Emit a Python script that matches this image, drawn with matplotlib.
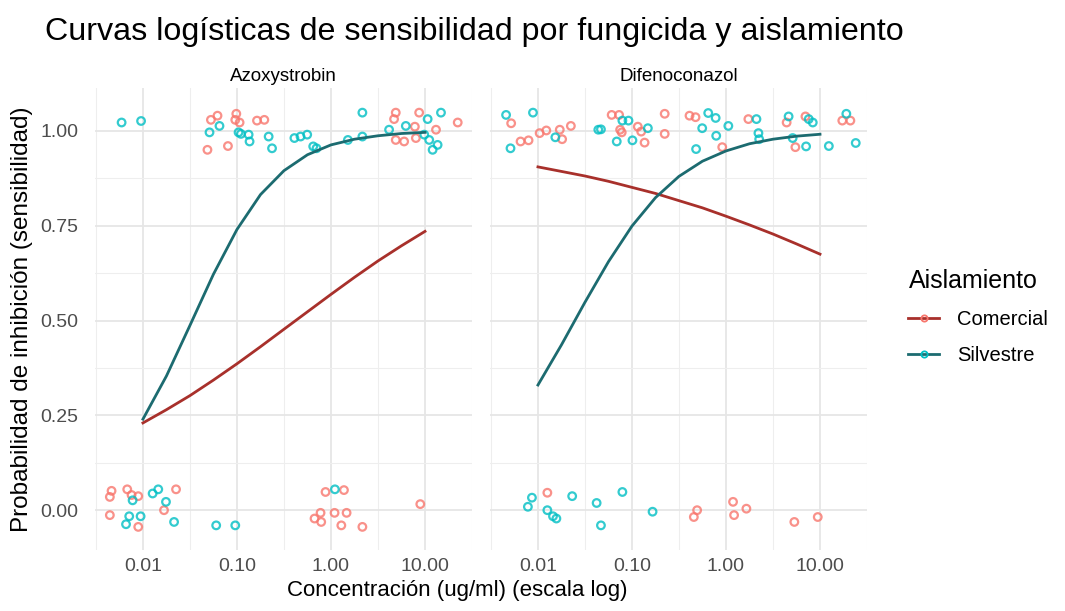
import numpy as np
import matplotlib
matplotlib.use("Agg")
import matplotlib.pyplot as plt
from matplotlib.lines import Line2D

plt.rcParams['font.family'] = ['Liberation Sans', 'DejaVu Sans']

PT_C = {'Comercial': '#F8766D', 'Silvestre': '#00BFC4'}
LN_C = {'Comercial': '#A8302B', 'Silvestre': '#1C6B70'}

# fitted curves
curve_x = [0.01, 0.0178, 0.0316, 0.0562, 0.1, 0.178, 0.316, 0.562, 1, 1.78, 3.16, 5.62, 10]
curves = {
    'Azoxystrobin': {
        'Comercial': [0.230, 0.265, 0.302, 0.343, 0.386, 0.431, 0.477, 0.523, 0.569,
                      0.614, 0.657, 0.697, 0.735],
        'Silvestre': [0.240, 0.354, 0.487, 0.622, 0.740, 0.832, 0.895, 0.937, 0.963,
                      0.978, 0.987, 0.993, 0.996],
    },
    'Difenoconazol': {
        'Comercial': [0.905, 0.893, 0.881, 0.867, 0.851, 0.835, 0.816, 0.797, 0.775,
                      0.752, 0.728, 0.702, 0.675],
        'Silvestre': [0.330, 0.436, 0.548, 0.655, 0.749, 0.824, 0.880, 0.920, 0.947,
                      0.966, 0.978, 0.986, 0.991],
    },
}

# jittered observations (log10 concentration, response)
azo_com_lx = [-1.277, -1.207, -1.314, -1.096, -1.007, -1.018, -0.972, -0.787, -0.709,
              0.689, 0.671, 0.689, 0.778, 0.892, 0.938, 0.903, 1.117, 1.348,
              -2.334, -2.352, -2.167, -2.121, -2.05, -1.776, -1.648, -2.352, -2.05,
              -0.058, 0.138, -0.175, -0.111, -0.104, 0.038, 0.166, 0.11, 0.334, 0.95]
azo_com_y = [1.029, 1.04, 0.95, 0.96, 1.045, 1.029, 1.022, 1.027, 1.029,
             1.048, 1.031, 0.976, 0.972, 1.011, 1.048, 0.981, 1.003, 1.022,
             0.051, 0.035, 0.055, 0.04, 0.037, 0.0, 0.055, -0.013, -0.044,
             0.048, 0.053, -0.022, -0.007, -0.031, -0.007, -0.007, -0.04, -0.044, 0.016]
azo_sil_lx = [-2.227, -2.02, -1.292, -1.186, -0.983, -0.958, -0.876, -0.866, -0.663, -0.627,
              -0.389, -0.324, -0.253, -0.189, -0.154, 0.18, 0.334, 0.334, 0.618, 0.796,
              0.992, 1.028, 1.045, 1.081, 1.134, 1.17,
              -2.11, -1.897, -1.837, -1.755, -2.146, -2.025, -2.18, -1.669, -1.221, -1.018, 0.042]
azo_sil_y = [1.022, 1.026, 0.996, 1.013, 0.996, 0.992, 0.99, 0.972, 0.985, 0.954,
             0.981, 0.985, 0.99, 0.959, 0.954, 0.976, 1.048, 0.985, 1.003, 1.013,
             0.99, 1.031, 0.976, 0.95, 0.963, 1.048,
             0.026, 0.044, 0.055, 0.022, -0.016, -0.016, -0.037, -0.031, -0.04, -0.04, 0.055]
dif_com_lx = [-2.285, -2.185, -2.1, -1.982, -1.911, -1.768, -1.743, -1.65, -1.216, -1.137,
              -1.126, -1.109, -0.938, -0.902, -0.866, -0.652, -0.652, -0.388, -0.324, -0.04,
              0.238, 0.645, 0.845, 0.738, 1.237, 1.323,
              -1.9, -0.307, -0.342, 0.075, 0.217, 0.086, 0.727, 0.976]
dif_com_y = [1.02, 0.972, 0.975, 0.994, 1.001, 1.003, 0.978, 1.013, 1.042, 1.042,
             1.003, 0.996, 1.011, 0.998, 0.969, 1.045, 0.992, 1.04, 1.036, 0.957,
             1.031, 1.022, 1.038, 0.957, 1.027, 1.027,
             0.046, 0.0, -0.018, 0.022, 0.004, -0.013, -0.031, -0.018]
dif_sil_lx = [-2.339, -2.053, -2.292, -1.815, -1.358, -1.33, -1.102, -1.037, -0.831, -1.162,
              -0.995, -0.189, -0.11, -0.253, -0.104, 0.025, -0.318, 0.324, 0.345, 0.353,
              0.666, 0.88, 0.923, 0.709, 0.852, 1.094, 1.38, 1.28,
              -2.107, -2.064, -1.9, -1.84, -1.804, -1.636, -1.376, -1.33, -1.102, -0.781]
dif_sil_y = [1.042, 1.048, 0.954, 0.983, 1.003, 1.004, 1.027, 1.027, 1.007, 0.972,
             0.975, 1.047, 1.034, 1.007, 0.987, 1.013, 0.952, 1.031, 0.994, 0.978,
             1.038, 1.031, 1.022, 0.981, 0.959, 0.96, 0.968, 1.045,
             0.009, 0.033, 0.0, -0.016, -0.022, 0.037, 0.019, -0.04, 0.048, -0.004]

points = {
    'Azoxystrobin': {'Comercial': (azo_com_lx, azo_com_y), 'Silvestre': (azo_sil_lx, azo_sil_y)},
    'Difenoconazol': {'Comercial': (dif_com_lx, dif_com_y), 'Silvestre': (dif_sil_lx, dif_sil_y)},
}

x_ticks = [0.01, 0.1, 1, 10]
x_tick_labels = ['0.01', '0.10', '1.00', '10.00']
y_ticks = [0, 0.25, 0.5, 0.75, 1.0]
y_tick_labels = ['0.00', '0.25', '0.50', '0.75', '1.00']

fig = plt.figure(figsize=(10.65, 6.11), dpi=100)
panels = [('Azoxystrobin', 0.0892), ('Difenoconazol', 0.4601)]

for i, (name, left) in enumerate(panels):
    ax = fig.add_axes([left, 0.0998, 0.354, 0.7562])
    ax.set_xscale('log')
    ax.set_xlim(10 ** -2.51, 10 ** 1.49)
    ax.set_ylim(-0.105, 1.113)
    for s in ax.spines.values():
        s.set_visible(False)
    ax.set_xticks(x_ticks)
    ax.set_xticklabels(x_tick_labels)
    ax.set_xticks([10 ** v for v in (-2.5, -1.5, -0.5, 0.5, 1.5)], minor=True)
    ax.set_yticks(y_ticks)
    ax.set_yticks([0.125, 0.375, 0.625, 0.875], minor=True)
    if i == 0:
        ax.set_yticklabels(y_tick_labels)
    else:
        ax.set_yticklabels([])
    ax.tick_params(which='both', length=0, labelsize=14, colors='#4D4D4D')
    ax.tick_params(axis='x', pad=6)
    ax.tick_params(axis='y', pad=12)
    ax.xaxis.set_minor_formatter(plt.NullFormatter())
    ax.grid(which='major', color='#E6E6E6', linewidth=1.3)
    ax.grid(which='minor', color='#EEEEEE', linewidth=0.8)
    ax.set_axisbelow(True)
    ax.set_title(name, fontsize=13.5, pad=5)

    for grp in ['Comercial', 'Silvestre']:
        lx, yy = points[name][grp]
        ax.scatter(np.power(10.0, lx), yy, s=30, facecolors='none',
                   edgecolors=PT_C[grp], linewidths=1.6, alpha=0.8, zorder=2)
    for grp in ['Comercial', 'Silvestre']:
        ax.plot(curve_x, curves[name][grp], color=LN_C[grp], linewidth=2.0, zorder=3)

fig.text(0.042, 0.947, 'Curvas logísticas de sensibilidad por fungicida y aislamiento',
         fontsize=23.2, va='center', ha='left')
fig.text(0.429, 0.034, 'Concentración (ug/ml) (escala log)', fontsize=16, ha='center', va='center')
fig.text(0.021, 0.478, 'Probabilidad de inhibición (sensibilidad)', fontsize=17.5,
         rotation=90, ha='center', va='center')

handles = [Line2D([0], [0], color=LN_C[g], linewidth=2.0, marker='o', markersize=4.5,
                  markerfacecolor='none', markeredgecolor=PT_C[g], markeredgewidth=1.3)
           for g in ['Comercial', 'Silvestre']]
leg = fig.legend(handles, ['Comercial', 'Silvestre'], title='Aislamiento',
                 loc='upper left', bbox_to_anchor=(0.836, 0.59), frameon=False,
                 fontsize=14.5, title_fontsize=18, handlelength=1.5, labelspacing=0.85,
                 handletextpad=0.9)
leg._legend_box.align = 'left'

fig.savefig('out.png', dpi=100)
